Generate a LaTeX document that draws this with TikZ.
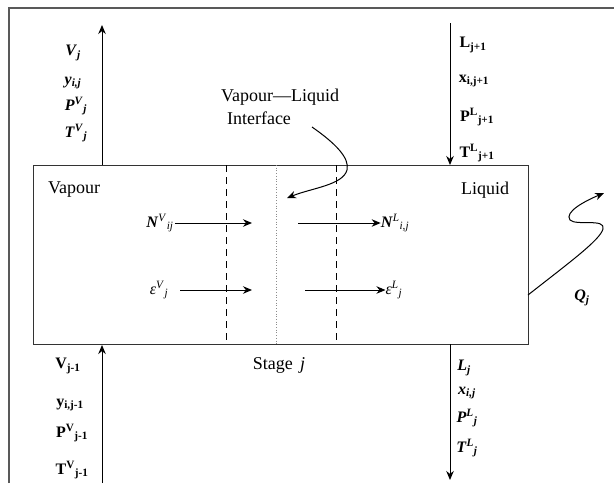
\documentclass[tikz,border=0pt]{standalone}
\usepackage{fontspec}
\setmainfont{Liberation Serif}
\usetikzlibrary{arrows.meta}
\newcommand{\bi}[1]{\textbf{\textit{#1}}}
\newcommand{\bu}[1]{\textbf{#1}}
\begin{document}
\begin{tikzpicture}[x=1pt,y=-1pt,
  txt/.style={font=\fontsize{18}{21}\selectfont, inner sep=0pt},
  var/.style={font=\fontsize{16}{19}\selectfont, inner sep=0pt},
  flow/.style={line width=1pt, -{Stealth[length=9pt,width=7.5pt]}},
  boxline/.style={line width=1.2pt, draw=black!80},
  frameline/.style={line width=1.8pt, draw=black!65},
  dashline/.style={line width=0.9pt, dash pattern=on 7pt off 5pt},
  dotline/.style={line width=0.7pt, draw=black!45, dotted}]
\useasboundingbox (0,0) rectangle (614,483);
% frame
\draw[frameline] (9,483) -- (9,8) -- (614,8);
% stage box
\node[boxline, draw, minimum width=495pt, minimum height=179pt, inner sep=0pt, anchor=north west] (box) at (33,165) {};
% interfaces
\coordinate (d1t) at (226,165); \coordinate (d1b) at (226,344);
\coordinate (d2t) at (276,165); \coordinate (d2b) at (276,344);
\coordinate (d3t) at (336,165); \coordinate (d3b) at (336,344);
\draw[dashline] (d1t) -- (d1b);
\draw[dotline] (d2t) -- (d2b);
\draw[dashline] (d3t) -- (d3b);
% vertical streams
\coordinate (vtop) at (102,25); \coordinate (vtopb) at (102,165);
\coordinate (vbot) at (102,483); \coordinate (vbotb) at (102,345);
\coordinate (ltop) at (450,23); \coordinate (ltopb) at (450,165);
\coordinate (lbot) at (450,480); \coordinate (lbotb) at (450,344);
\draw[flow] (vtopb) -- (vtop);
\draw[flow] (vbot) -- (vbotb);
\draw[flow] (ltop) -- (ltopb);
\draw[flow] (lbotb) -- (lbot);
% labels top left
\node[var] (vj) at (73,53) {\bi{V}\textsubscript{\bi{j}}};
\node[var] (yij) at (73,83) {\bi{y}\textsubscript{\bi{i,j}}};
\node[var] (pvj) at (76,106) {\bi{P}\textsuperscript{\bi{V}}\textsubscript{\bi{j}}};
\node[var] (tvj) at (76,133) {\bi{T}\textsuperscript{\bi{V}}\textsubscript{\bi{j}}};
% labels top right
\node[var] (lj1) at (473,45) {\bu{L}\textsubscript{\bu{j+1}}};
\node[var] (xij1) at (474,81) {\bu{x}\textsubscript{\bu{i,j+1}}};
\node[var] (plj1) at (477,117) {\bu{P}\textsuperscript{\bu{L}}\textsubscript{\bu{j+1}}};
\node[var] (tlj1) at (477,153) {\bu{T}\textsuperscript{\bu{L}}\textsubscript{\bu{j+1}}};
% labels bottom left
\node[var] (vj1) at (68,366) {\bu{V}\textsubscript{\bu{j-1}}};
\node[var] (yij1) at (70,405) {\bu{y}\textsubscript{\bu{i,j-1}}};
\node[var] (pvj1) at (72,433) {\bu{P}\textsuperscript{\bu{V}}\textsubscript{\bu{j-1}}};
\node[var] (tvj1) at (72,470) {\bu{T}\textsuperscript{\bu{V}}\textsubscript{\bu{j-1}}};
% labels bottom right
\node[var] (lj) at (464,368) {\bi{L}\textsubscript{\bi{j}}};
\node[var] (xij) at (467,393) {\bi{x}\textsubscript{\bi{i,j}}};
\node[var] (plj) at (467,418) {\bi{P}\textsuperscript{\bi{L}}\textsubscript{\bi{j}}};
\node[var] (tlj) at (467,448) {\bi{T}\textsuperscript{\bi{L}}\textsubscript{\bi{j}}};
% text
\node[txt] (vap) at (74,190) {Vapour};
\node[txt] (liq) at (485,190) {Liquid};
\node[txt] (vli) at (280,97) {Vapour—Liquid};
\node[txt] (intf) at (259,118) {Interface};
\node[txt] (stage) at (279,365) {Stage\hspace{0.4em}\textit{j}};
% transfer arrows
\node[var] (nv) at (160,223) {\bi{N}\textsuperscript{\textit{V}}\textsubscript{\textit{ij}}};
\node[var] (ev) at (159,290) {\textit{ε}\textsuperscript{\textit{V}}\textsubscript{\textit{j}}};
\node[var] (nl) at (395,223) {\bi{N}\textsuperscript{\textit{L}}\textsubscript{\textit{i,j}}};
\node[var] (el) at (394,290) {\textit{ε}\textsuperscript{\textit{L}}\textsubscript{\textit{j}}};
\coordinate (nva) at (252,223); \coordinate (eva) at (252,290);
\coordinate (nls) at (298,223); \coordinate (els) at (305,290);
\draw[flow] (nv.east) ++(1,0) -- (nva);
\draw[flow] (ev.east) ++(12,0) -- (eva);
\draw[flow] (nls) -- (nl.west);
\draw[flow] (els) -- (el.west);
% interface pointer
\coordinate (ip) at (312,127);
\coordinate (ipt) at (287,198);
\draw[flow] (ip) .. controls (335,143) and (350,158) .. (347,170) .. controls (343,185) and (312,188) .. (ipt);
% heat
\node[var] (qj) at (582,298) {\bi{Q}\textsubscript{\bi{j}}};
\coordinate (qs) at (528,295);
\coordinate (qe) at (604,193);
\draw[flow] (qs) .. controls (570,262) and (600,240) .. (603,229) .. controls (606,218) and (576,226) .. (570,220) .. controls (564,212) and (585,201) .. (qe);
\end{tikzpicture}
\end{document}
